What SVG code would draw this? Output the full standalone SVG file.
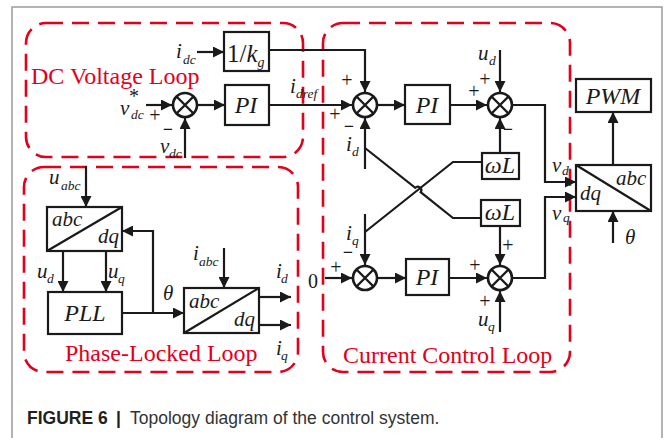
<svg xmlns="http://www.w3.org/2000/svg" xmlns:xlink="http://www.w3.org/1999/xlink" width="664" height="438" viewBox="0 0 664 438">
  <style>
    .ln { fill: none; stroke: #1a1a1a; stroke-width: 2.2; }
    .arr { marker-end: url(#ah); }
    .box { fill: #fff; stroke: #1a1a1a; stroke-width: 2.2; }
    .loop { fill: none; stroke: #e2001a; stroke-width: 2.6; stroke-dasharray: 17 9; }
    .loopTxt { font-family: "Liberation Serif", "Times New Roman", serif; font-size: 24px; fill: #e2001a; }
    .m { font-family: "Liberation Serif", "Times New Roman", serif; font-style: italic; font-size: 21px; fill: #1a1a1a; }
    .sub { font-size: 13.5px; }
    .blk { font-family: "Liberation Serif", "Times New Roman", serif; font-style: italic; font-size: 24px; fill: #1a1a1a; text-anchor: middle; }
    .tr { font-family: "Liberation Serif", "Times New Roman", serif; font-style: italic; font-size: 21px; fill: #1a1a1a; }
    .sg { font-family: "Liberation Serif", "Times New Roman", serif; font-size: 20px; fill: #1a1a1a; text-anchor: middle; }
    .mn { font-family: "Liberation Serif", "Times New Roman", serif; font-size: 18px; font-weight: bold; fill: #1a1a1a; text-anchor: middle; }
    .cap { font-family: "Liberation Sans", Arial, sans-serif; font-size: 17.5px; }
  </style>
  <defs>
    <marker id="ah" markerUnits="userSpaceOnUse" markerWidth="12" markerHeight="11" refX="11" refY="5.5" orient="auto">
      <path d="M0,0 L11,5.5 L0,11 Z" fill="#1a1a1a"/>
    </marker>
    <!-- summing junction: circle with a cross -->
    <g id="sj">
      <circle r="12" fill="#fff" stroke="#1a1a1a" stroke-width="2.6"/>
      <path d="M-8.5,-8.5 L8.5,8.5 M-8.5,8.5 L8.5,-8.5" stroke="#1a1a1a" stroke-width="2.4"/>
    </g>
  </defs>

  <!-- outer frame -->
  <rect x="12" y="7" width="650" height="440" fill="#fff" stroke="#9a9a9a" stroke-width="1.5"/>

  <!-- loop regions -->
  <g id="dc-voltage-loop">
    <rect class="loop" x="26" y="23" width="277" height="134" rx="20"/>
    <text class="loopTxt" x="31" y="84">DC Voltage Loop</text>
  </g>
  <g id="phase-locked-loop">
    <rect class="loop" x="24" y="167" width="274" height="205" rx="20"/>
    <text class="loopTxt" x="65" y="361">Phase-Locked Loop</text>
  </g>
  <g id="current-control-loop">
    <rect class="loop" x="323" y="23" width="247" height="349" rx="20"/>
    <text class="loopTxt" x="343" y="363">Current Control Loop</text>
  </g>

  <!-- connectors -->
  <g id="connectors">
    <!-- DC voltage loop -->
    <path class="ln arr" d="M197,52 H224"/>
    <path class="ln arr" d="M269,50 H365 V92"/>
    <path class="ln arr" d="M146,105 H172"/>
    <path class="ln arr" d="M198,105 H225"/>
    <path class="ln arr" d="M269,105 H352"/>
    <path class="ln arr" d="M185,158 V118"/>
    <!-- current control loop, d axis -->
    <path class="ln arr" d="M378,105 H405"/>
    <path class="ln arr" d="M450,105 H487"/>
    <path class="ln arr" d="M500,50 V92"/>
    <path class="ln arr" d="M500,153 V118"/>
    <path class="ln arr" d="M513,105 H545 V182 H576"/>
    <path class="ln arr" d="M365,169 V118"/>
    <path class="ln" d="M365,148 L415.3,187.8 A3.5,3.5 0 0 1 420.7,192.2 L453,218 H481"/>
    <!-- current control loop, q axis -->
    <path class="ln arr" d="M365,214 V265"/>
    <path class="ln" d="M365,232 L453,162 H482"/>
    <path class="ln arr" d="M325,278 H352"/>
    <path class="ln arr" d="M378,278 H406"/>
    <path class="ln arr" d="M449,278 H487"/>
    <path class="ln arr" d="M500,226 V265"/>
    <path class="ln arr" d="M500,332 V291"/>
    <path class="ln arr" d="M513,278 H545 V197 H576"/>
    <!-- modulation -->
    <path class="ln arr" d="M613,165 V112"/>
    <path class="ln arr" d="M613,243 V211"/>
    <!-- phase-locked loop -->
    <path class="ln arr" d="M86,166 V207"/>
    <path class="ln arr" d="M63,251 V292"/>
    <path class="ln arr" d="M106,251 V292"/>
    <path class="ln arr" d="M122,313 H184"/>
    <path class="ln arr" d="M153,313 V231 H122"/>
    <path class="ln arr" d="M224,248 V288"/>
    <path class="ln arr" d="M259,297 H291"/>
    <path class="ln arr" d="M259,325 H291"/>
  </g>

  <!-- signal labels -->
  <g id="signal-labels">
    <text class="m" x="176" y="58">i<tspan class="sub" x="183" y="64">dc</tspan></text>
    <text class="m" x="120" y="115">v<tspan class="sub" x="131" y="119">dc</tspan></text>
    <text class="sg" x="134" y="103" font-size="15">*</text>
    <text class="m" x="160" y="153">v<tspan class="sub" x="169" y="158">dc</tspan></text>
    <text class="m" x="290" y="93" font-size="20">i<tspan class="sub" x="296" y="98">dref</tspan></text>
    <text class="m" x="478" y="60">u<tspan class="sub" x="489" y="65">d</tspan></text>
    <text class="m" x="346" y="151">i<tspan class="sub" x="352" y="156">d</tspan></text>
    <text class="m" x="552" y="172">v<tspan class="sub" x="562" y="175">d</tspan></text>
    <text class="m" x="552" y="220">v<tspan class="sub" x="563" y="222">q</tspan></text>
    <text class="m" x="346" y="240">i<tspan class="sub" x="352" y="245">q</tspan></text>
    <text class="m" x="478" y="326">u<tspan class="sub" x="488" y="331">q</tspan></text>
    <text class="m" x="625" y="244" font-size="22">θ</text>
    <text class="sg" x="313" y="288" font-size="21">0</text>
    <text class="m" x="49" y="184">u<tspan class="sub" x="61" y="190">abc</tspan></text>
    <text class="m" x="37" y="278">u<tspan class="sub" x="47" y="283">d</tspan></text>
    <text class="m" x="108" y="278">u<tspan class="sub" x="118" y="283">q</tspan></text>
    <text class="m" x="163" y="300" font-size="22">θ</text>
    <text class="m" x="193" y="260">i<tspan class="sub" x="199" y="266">abc</tspan></text>
    <text class="m" x="276" y="278">i<tspan class="sub" x="281" y="283">d</tspan></text>
    <text class="m" x="276" y="355">i<tspan class="sub" x="281" y="360">q</tspan></text>
  </g>

  <!-- signs at the summing junctions -->
  <g id="signs">
    <text class="sg" x="155" y="122">+</text>
    <text class="mn" x="168" y="135">−</text>
    <text class="sg" x="347" y="87">+</text>
    <text class="sg" x="335" y="121">+</text>
    <text class="mn" x="349" y="132">−</text>
    <text class="sg" x="485" y="86">+</text>
    <text class="sg" x="474" y="98">+</text>
    <text class="mn" x="508" y="135">−</text>
    <text class="sg" x="336" y="274">+</text>
    <text class="mn" x="348" y="258">−</text>
    <text class="sg" x="475" y="272">+</text>
    <text class="sg" x="508" y="252">+</text>
    <text class="sg" x="485" y="308">+</text>
  </g>

  <!-- DC voltage loop blocks -->
  <g id="gain-1-kg">
    <rect class="box" x="224" y="32" width="45" height="39"/>
    <text font-family="Liberation Serif, Times New Roman, serif" font-size="25" fill="#1a1a1a" x="227" y="62">1/<tspan font-style="italic">k</tspan><tspan font-style="italic" font-size="14" dy="5">g</tspan></text>
  </g>
  <g id="sum-vdc"><use xlink:href="#sj" x="185" y="105"/></g>
  <g id="pi-vdc">
    <rect class="box" x="225" y="85" width="44" height="40"/>
    <text class="blk" x="246" y="113">PI</text>
  </g>

  <!-- current control loop blocks -->
  <g id="sum-id"><use xlink:href="#sj" x="365" y="105"/></g>
  <g id="pi-id">
    <rect class="box" x="405" y="85" width="45" height="39"/>
    <text class="blk" x="427" y="113">PI</text>
  </g>
  <g id="sum-vd"><use xlink:href="#sj" x="500" y="105"/></g>
  <g id="wl-d">
    <rect class="box" x="482" y="153" width="37" height="26"/>
    <text class="blk" x="500" y="173" font-size="22">ωL</text>
  </g>
  <g id="wl-q">
    <rect class="box" x="481" y="200" width="39" height="26"/>
    <text class="blk" x="500" y="220" font-size="22">ωL</text>
  </g>
  <g id="sum-iq"><use xlink:href="#sj" x="365" y="278"/></g>
  <g id="pi-iq">
    <rect class="box" x="406" y="259" width="43" height="36"/>
    <text class="blk" x="427" y="285">PI</text>
  </g>
  <g id="sum-vq"><use xlink:href="#sj" x="500" y="278"/></g>

  <!-- modulation blocks -->
  <g id="dq-abc">
    <rect class="box" x="576" y="165" width="75" height="46"/>
    <path class="ln" d="M576,165 L651,211"/>
    <text class="tr" x="616" y="185">abc</text>
    <text class="tr" x="580" y="200">dq</text>
  </g>
  <g id="pwm">
    <rect class="box" x="576" y="79" width="75" height="33"/>
    <text class="blk" x="613" y="104">PWM</text>
  </g>

  <!-- phase-locked loop blocks -->
  <g id="abc-dq-voltage">
    <rect class="box" x="47" y="207" width="75" height="44"/>
    <path class="ln" d="M47,251 L122,207"/>
    <text class="tr" x="52" y="226">abc</text>
    <text class="tr" x="119" y="243" text-anchor="end">dq</text>
  </g>
  <g id="pll">
    <rect class="box" x="48" y="292" width="74" height="42"/>
    <text class="blk" x="85" y="321">PLL</text>
  </g>
  <g id="abc-dq-current">
    <rect class="box" x="184" y="288" width="75" height="45"/>
    <path class="ln" d="M184,333 L259,288"/>
    <text class="tr" x="189" y="308">abc</text>
    <text class="tr" x="255" y="326" text-anchor="end">dq</text>
  </g>

  <!-- caption -->
  <g id="caption">
    <text class="cap" x="27" y="424" font-weight="bold" fill="#231f20">FIGURE 6</text>
    <text class="cap" x="116" y="424" font-weight="bold" fill="#231f20">|</text>
    <text class="cap" x="130" y="424" fill="#333">Topology diagram of the control system.</text>
  </g>
</svg>
